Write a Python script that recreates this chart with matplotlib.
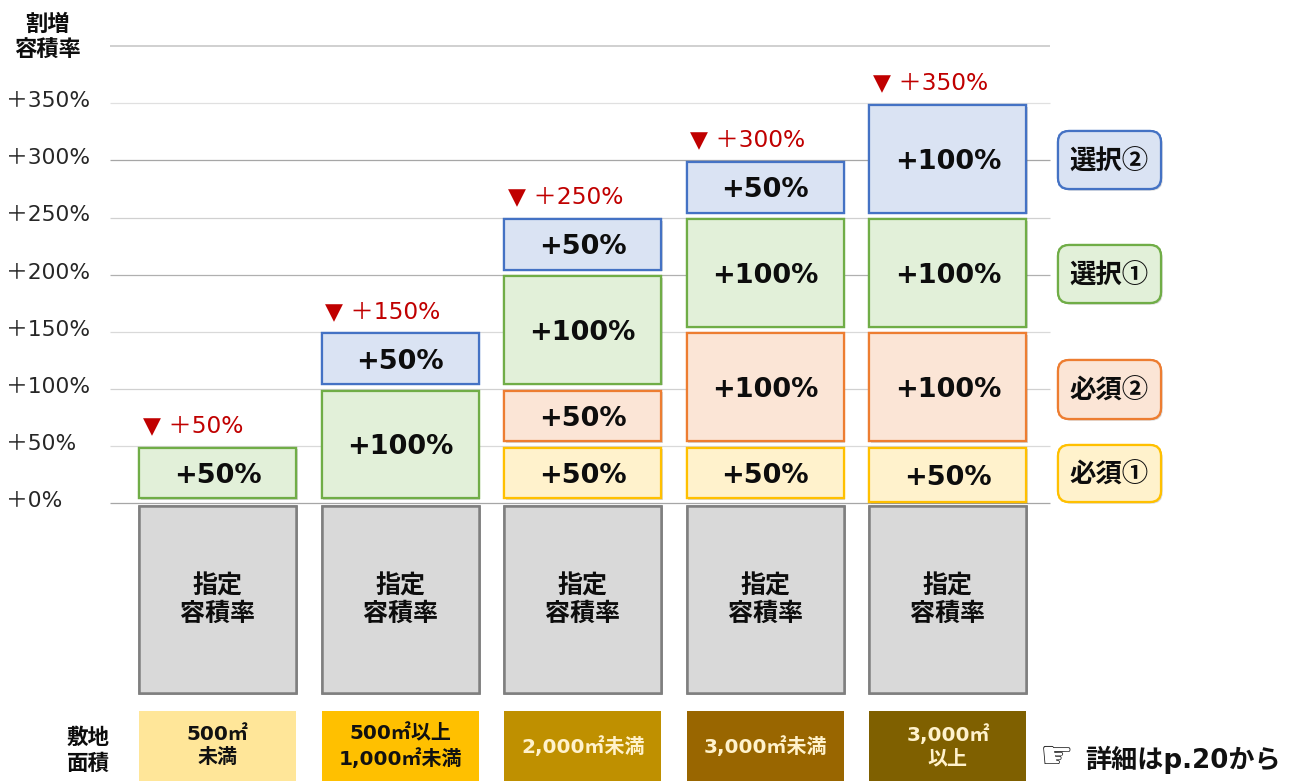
"""Recreates the bonus floor-area-ratio staircase chart."""

import matplotlib
matplotlib.use("Agg")
import matplotlib.pyplot as plt
import matplotlib.patheffects as pe
from matplotlib.patches import FancyBboxPatch

OUT_FILE = "out.png"

# Chart values
SITE_LABELS = ["500㎡\n未満", "500㎡以上\n1,000㎡未満", "2,000㎡未満", "3,000㎡未満", "3,000㎡\n以上"]
REQUIRED_1 = [0, 0, 50, 50, 50]
REQUIRED_2 = [0, 0, 50, 100, 100]
SELECT_1 = [50, 100, 100, 100, 100]
SELECT_2 = [0, 50, 50, 50, 100]
Y_TICKS = [0, 50, 100, 150, 200, 250, 300, 350]
TOP_LINE = 400
LEGEND_LABELS = ["必須①", "必須②", "選択①", "選択②"]

# Styles
FILLS = ["#FFF2CC", "#FBE5D6", "#E2F0D9", "#DAE3F3"]
EDGES = ["#FFC000", "#ED7D31", "#70AD47", "#4472C4"]
SITE_FILLS = ["#FFE699", "#FFC000", "#BF9000", "#996600", "#7F6000"]
SITE_TEXT = ["#111111", "#111111", "#FFF2CC", "#FFF2CC", "#FFF2CC"]
GRID_COLORS = ["#A6A6A6", "#D9D9D9", "#D0D0D0", "#D9D9D9", "#B0B0B0", "#D0D0D0", "#A6A6A6", "#E0E0E0"]
BOTTOM_INSET = [4.4, 4.4, 4.4, 4.4, 0.8]
FONTS = ["DejaVu Sans", "Noto Sans CJK JP"]
CJK_FONTS = ["Noto Sans CJK JP", "DejaVu Sans"]
WIDTH, HEIGHT = 1289, 781

shadow = [pe.withSimplePatchShadow(offset=(1.2, -1.2), alpha=0.22, shadow_rgbFace="#555555"), pe.Normal()]


def main() -> None:
    fig = plt.figure(figsize=(WIDTH / 100, HEIGHT / 100), dpi=100)

    # Main axes fills the figure: x in column units, y in percent
    ax = fig.add_axes([0, 0, 1, 1])
    ax.set_xlim(-1.191, 5.868)
    ax.set_ylim(-243.4, 440.5)
    ax.axis("off")

    # Overlay axes in pixels for labels outside the plot
    ov = fig.add_axes([0, 0, 1, 1])
    ov.set_xlim(0, WIDTH)
    ov.set_ylim(HEIGHT, 0)
    ov.axis("off")
    ov.patch.set_alpha(0)

    # Grid lines
    for value, color in zip(Y_TICKS, GRID_COLORS):
        ax.hlines(value, -0.59, 4.56, color=color, lw=0.9, zorder=1)
        ax.text(-1.16, value + 1.8, f"＋{value}%", family=FONTS, fontsize=15.7,
                color="#262626", ha="left", va="center")
    ax.hlines(TOP_LINE, -0.59, 4.56, color="#C8C8C8", lw=1.2, zorder=1)

    columns = range(len(SITE_LABELS))
    stacks = [REQUIRED_1, REQUIRED_2, SELECT_1, SELECT_2]

    # Stacked segments, inset a little so the grid shows between them
    bases = [0] * len(SITE_LABELS)
    for values, fill, edge in zip(stacks, FILLS, EDGES):
        for i in columns:
            if values[i] == 0:
                continue
            inset = BOTTOM_INSET[i] if bases[i] == 0 else 4.4
            bottom = bases[i] + inset
            top = bases[i] + values[i] - 1.5
            bars = ax.bar(i, top - bottom, 0.86, bottom=bottom, facecolor=fill,
                          edgecolor=edge, linewidth=1.6, zorder=3)
            bars[0].set_path_effects(shadow)
            ax.text(i, (bottom + top) / 2 - 2.6, f"+{values[i]}%", family=FONTS, fontsize=19.5,
                    fontweight="bold", color="#0D0D0D", ha="center", va="center", zorder=4)
            bases[i] += values[i]

    # Totals above each column
    for i in columns:
        ax.text(i - 0.41, bases[i] + 18, f"▼ ＋{bases[i]}%", family=FONTS, fontsize=16.8,
                color="#C00000", ha="left", va="center", zorder=4)

    # Base floor-area-ratio boxes
    for i in columns:
        bars = ax.bar(i, 163, 0.86, bottom=-166, facecolor="#D9D9D9", edgecolor="#7F7F7F",
                      linewidth=1.8, zorder=3)
        bars[0].set_path_effects(shadow)
        ax.text(i, -85, "指定\n容積率", family=CJK_FONTS, fontsize=18, fontweight="bold",
                color="#0D0D0D", ha="center", va="center", linespacing=1.18, zorder=4)

    # Site-area boxes
    for i in columns:
        ax.bar(i, 62, 0.86, bottom=-244, facecolor=SITE_FILLS[i], edgecolor="none", zorder=3)
        ax.text(i, -213, SITE_LABELS[i], family=FONTS, fontsize=14.4, fontweight="bold",
                color=SITE_TEXT[i], ha="center", va="center", linespacing=1.25, zorder=4)

    # Axis captions
    ov.text(47, 37.5, "割増\n容積率", family=CJK_FONTS, fontsize=16, fontweight="bold",
            color="#0D0D0D", ha="center", va="center", linespacing=1.16)
    ov.text(88, 750, "敷地\n面積", family=CJK_FONTS, fontsize=15.5, fontweight="bold",
            color="#0D0D0D", ha="center", va="center", linespacing=1.3)

    # Legend chips
    chips = [(445, 502), (360, 419), (245, 303), (131, 189)]
    for (y0, y1), label, fill, edge in zip(chips, LEGEND_LABELS, FILLS, EDGES):
        chip = FancyBboxPatch((1058 + 8, y0 + 8), 103 - 16, y1 - y0 - 16,
                              boxstyle="round,pad=8,rounding_size=11", facecolor=fill,
                              edgecolor=edge, linewidth=1.6, zorder=3)
        chip.set_path_effects(shadow)
        ov.add_patch(chip)
        ov.text(1109, (y0 + y1) / 2 + 2, label, family=CJK_FONTS, fontsize=19, fontweight="bold",
                color="#0D0D0D", ha="center", va="center", zorder=4)

    # Page reference
    ov.text(1040, 758, "☞", family=FONTS, fontsize=27, fontweight="bold", color="#111111",
            ha="left", va="center")
    ov.text(1085, 760, "詳細はp.20から", family=FONTS, fontsize=18.8, fontweight="bold",
            color="#111111", ha="left", va="center")

    fig.savefig(OUT_FILE, dpi=100)
    plt.close(fig)


if __name__ == "__main__":
    main()
